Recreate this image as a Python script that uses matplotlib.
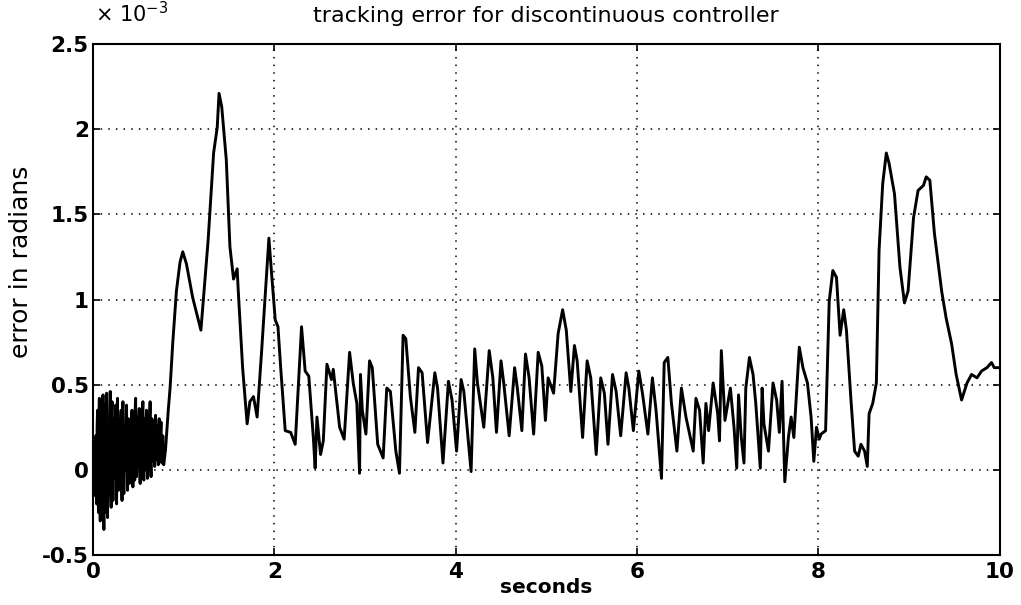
import numpy as np
import matplotlib
matplotlib.use("Agg")
import matplotlib.pyplot as plt
from matplotlib.ticker import FuncFormatter

# tracking error, in units of 1e-3 rad
# chattering phase right after start, sampled every 5 ms
burst_dt = 0.005
burst_err = [
    0.05, 0.10, 0.15, -0.05, -0.15, 0.12, 0.20, -0.10, -0.20, 0.25,
    0.35, -0.08, -0.25, 0.30, 0.42, -0.15, -0.30, 0.20, 0.30, -0.05,
    -0.20, 0.30, 0.44, -0.20, -0.35, 0.25, 0.38, -0.10, -0.25, 0.35,
    0.45, -0.12, -0.28, 0.20, 0.25, -0.02, -0.15, 0.32, 0.46, -0.08,
    -0.22, 0.30, 0.40, -0.05, -0.18, 0.25, 0.30, 0.05, -0.05, 0.30,
    0.38, -0.05, -0.20, 0.30, 0.42, 0.00, -0.12, 0.25, 0.30, 0.02,
    -0.10, 0.28, 0.35, -0.02, -0.18, 0.30, 0.40, 0.00, -0.14, 0.20,
    0.25, 0.08, 0.00, 0.30, 0.38, 0.00, -0.12, 0.22, 0.30, 0.05,
    -0.08, 0.15, 0.20, 0.05, -0.02, 0.28, 0.35, 0.00, -0.10, 0.25,
    0.30, 0.02, -0.06, 0.35, 0.42, 0.05, -0.04, 0.22, 0.28, 0.08,
    0.02, 0.30, 0.36, 0.02, -0.08, 0.20, 0.26, 0.05, -0.03, 0.32,
    0.40, 0.02, -0.06, 0.25, 0.30, 0.08, 0.00, 0.28, 0.35, 0.05,
    -0.05, 0.20, 0.25, 0.10, 0.05, 0.32, 0.40, 0.05, -0.04, 0.25,
    0.30, 0.10, 0.05, 0.22, 0.28, 0.08, 0.02, 0.26, 0.32, 0.10,
    0.06, 0.20, 0.25, 0.08, 0.03, 0.25, 0.30, 0.12, 0.08, 0.22,
    0.28, 0.10, 0.04, 0.15, 0.20, 0.06, 0.03,
]

# remainder of the run
t_rest = [
    0.80, 0.83, 0.85, 0.88, 0.92, 0.96, 0.99, 1.03, 1.10, 1.19,
    1.27, 1.33, 1.37, 1.39, 1.42, 1.47, 1.51, 1.55, 1.59, 1.60,
    1.65, 1.70, 1.73, 1.77, 1.81, 1.86, 1.90, 1.94, 1.97, 2.01,
    2.04, 2.07, 2.12, 2.18, 2.23, 2.30, 2.34, 2.38, 2.43, 2.45,
    2.47, 2.51, 2.54, 2.58, 2.63, 2.65, 2.72, 2.77, 2.83, 2.87,
    2.91, 2.94, 2.95, 2.97, 3.01, 3.05, 3.08, 3.14, 3.20, 3.24,
    3.28, 3.34, 3.38, 3.42, 3.45, 3.50, 3.55, 3.59, 3.63, 3.69,
    3.77, 3.80, 3.86, 3.92, 3.96, 4.01, 4.06, 4.09, 4.17, 4.21,
    4.24, 4.31, 4.37, 4.41, 4.45, 4.50, 4.53, 4.59, 4.65, 4.68,
    4.73, 4.77, 4.81, 4.86, 4.91, 4.95, 4.99, 5.02, 5.08, 5.13,
    5.18, 5.22, 5.27, 5.31, 5.34, 5.40, 5.45, 5.49, 5.55, 5.60,
    5.64, 5.68, 5.73, 5.77, 5.82, 5.88, 5.91, 5.96, 6.02, 6.06,
    6.12, 6.17, 6.21, 6.27, 6.30, 6.34, 6.38, 6.44, 6.49, 6.54,
    6.62, 6.65, 6.69, 6.73, 6.76, 6.79, 6.84, 6.89, 6.91, 6.93,
    6.97, 7.03, 7.07, 7.10, 7.12, 7.15, 7.18, 7.20, 7.24, 7.28,
    7.31, 7.36, 7.38, 7.40, 7.45, 7.50, 7.54, 7.57, 7.60, 7.63,
    7.67, 7.70, 7.73, 7.79, 7.83, 7.88, 7.92, 7.95, 7.98, 8.01,
    8.03, 8.08, 8.12, 8.16, 8.20, 8.24, 8.28, 8.31, 8.36, 8.40,
    8.44, 8.47, 8.51, 8.54, 8.56, 8.60, 8.64, 8.67, 8.71, 8.75,
    8.78, 8.84, 8.90, 8.95, 8.99, 9.05, 9.10, 9.16, 9.19, 9.23,
    9.28, 9.36, 9.41, 9.47, 9.52, 9.58, 9.64, 9.69, 9.75, 9.80,
    9.86, 9.91, 9.94, 10.00,
]
err_rest = [
    0.12, 0.35, 0.48, 0.75, 1.05, 1.22, 1.28, 1.21, 1.01, 0.82,
    1.35, 1.86, 2.01, 2.21, 2.13, 1.82, 1.31, 1.12, 1.18, 1.07,
    0.60, 0.27, 0.40, 0.43, 0.31, 0.70, 1.03, 1.36, 1.15, 0.88,
    0.84, 0.60, 0.23, 0.22, 0.15, 0.84, 0.58, 0.55, 0.19, 0.01,
    0.31, 0.09, 0.17, 0.62, 0.53, 0.59, 0.25, 0.18, 0.69, 0.51,
    0.39, -0.02, 0.56, 0.35, 0.21, 0.64, 0.60, 0.15, 0.07, 0.48,
    0.46, 0.11, -0.02, 0.79, 0.77, 0.43, 0.22, 0.60, 0.57, 0.16,
    0.57, 0.48, 0.04, 0.52, 0.41, 0.11, 0.53, 0.46, -0.01, 0.71,
    0.51, 0.25, 0.70, 0.54, 0.22, 0.64, 0.51, 0.20, 0.60, 0.48,
    0.23, 0.68, 0.54, 0.21, 0.69, 0.61, 0.29, 0.54, 0.45, 0.80,
    0.94, 0.82, 0.46, 0.73, 0.64, 0.19, 0.64, 0.54, 0.09, 0.54,
    0.45, 0.15, 0.56, 0.46, 0.20, 0.57, 0.48, 0.23, 0.58, 0.45,
    0.21, 0.54, 0.35, -0.05, 0.63, 0.66, 0.39, 0.11, 0.48, 0.31,
    0.11, 0.42, 0.35, 0.04, 0.39, 0.23, 0.51, 0.33, 0.17, 0.70,
    0.29, 0.48, 0.25, 0.01, 0.44, 0.19, 0.04, 0.48, 0.66, 0.56,
    0.39, 0.01, 0.48, 0.27, 0.11, 0.51, 0.41, 0.22, 0.52, -0.07,
    0.19, 0.31, 0.19, 0.72, 0.60, 0.51, 0.31, 0.05, 0.25, 0.18,
    0.21, 0.23, 0.99, 1.17, 1.13, 0.79, 0.94, 0.82, 0.41, 0.11,
    0.08, 0.15, 0.11, 0.02, 0.33, 0.39, 0.51, 1.29, 1.68, 1.86,
    1.80, 1.62, 1.19, 0.98, 1.05, 1.48, 1.64, 1.67, 1.72, 1.70,
    1.39, 1.05, 0.89, 0.74, 0.56, 0.41, 0.51, 0.56, 0.54, 0.58,
    0.60, 0.63, 0.60, 0.60,
]

t_burst = np.arange(len(burst_err)) * burst_dt
t = np.concatenate([t_burst, t_rest])
err = np.concatenate([burst_err, err_rest])

plt.rcParams['font.family'] = ['DejaVu Sans']
plt.rcParams['path.simplify'] = False  # keep every chattering sample

fig = plt.figure(figsize=(10.21, 6.05), dpi=100)
ax = fig.add_axes([0.0911, 0.0826, 0.888, 0.8447])

ax.plot(t, err, color='black', linewidth=2.1)

ax.set_xlim(0, 10)
ax.set_ylim(-0.5, 2.5)
ax.set_xticks(np.arange(0, 11, 2))
ax.set_yticks(np.arange(-0.5, 2.51, 0.5))
ax.yaxis.set_major_formatter(FuncFormatter(lambda v, p: '%g' % v))
ax.xaxis.set_major_formatter(FuncFormatter(lambda v, p: '%g' % v))
ax.tick_params(direction='in', length=5, width=1.2, labelsize=15.5,
               top=True, right=True)
ax.tick_params(axis='x', pad=5)
ax.tick_params(axis='y', pad=3)
for lbl in ax.get_xticklabels() + ax.get_yticklabels():
    lbl.set_fontweight('bold')

ax.grid(True, color='black', linestyle=(0, (1, 4)), linewidth=1.1)
for s in ax.spines.values():
    s.set_linewidth(1.5)

ax.text(0.002, 1.043, r'$\times$ 10$^{-3}$', transform=ax.transAxes,
        fontsize=15, va='baseline', ha='left')
ax.set_title('tracking error for discontinuous controller', fontsize=16, pad=16)
ax.set_xlabel('seconds', fontsize=14.5, fontweight='bold', labelpad=-3)
ax.set_ylabel('error in radians', fontsize=18)
ax.yaxis.set_label_coords(-0.066, 0.573)

fig.savefig('out.png', dpi=100)
